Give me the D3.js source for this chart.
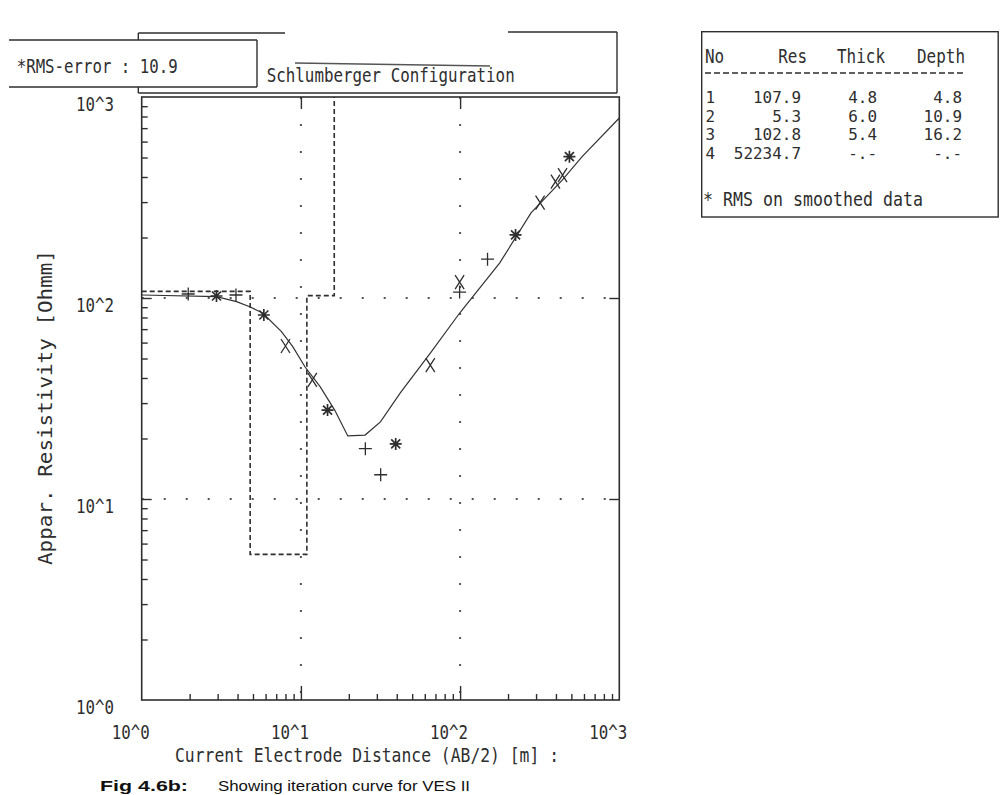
<!DOCTYPE html>
<html><head><meta charset="utf-8">
<script src="https://cdn.jsdelivr.net/npm/d3@7"></script>
<style>
html,body{margin:0;padding:0;background:#fff;}
svg{display:block;}
</style></head>
<body>
<svg id="chart" width="1001" height="795"></svg>
<script>
// ---------------- data ----------------
const modelAB2 = [1, 2.95, 3.94, 4.77, 5.75, 7.55, 8.89, 10.6, 13.2, 16.3, 19.7, 25.3, 31.6, 42.1, 65.0, 99.4, 177, 279, 438, 584, 1000];
const modelRho = [103.5, 101.5, 95.9, 90.5, 84.2, 68.0, 57.3, 45.5, 36.2, 27.7, 20.6, 20.8, 24.2, 33.7, 53.2, 84.2, 149, 265, 386, 505, 786];

const obsAB2    = [1.96, 2.95, 3.91, 5.85, 8.0, 11.8, 14.7, 25.4, 31.7, 39.4, 65, 99.3, 99.3, 148.7, 223, 318, 397, 440, 486];
const obsRho    = [104.7, 102.3, 103.5, 82.3, 57.7, 39.1, 27.7, 17.8, 13.2, 18.8, 46.4, 120, 107, 156, 206, 298, 379, 409, 505];
const obsSymbol = ["+", "*", "+", "*", "x", "x", "*", "+", "+", "*", "x", "x", "+", "+", "*", "x", "x", "x", "*"];

const layerNo    = [1, 2, 3, 4];
const layerRes   = [107.9, 5.3, 102.8, 52234.7];
const layerThick = [4.8, 6.0, 5.4, null];
const layerDepth = [4.8, 10.9, 16.2, null];

const decadeValues = [1, 10, 100, 1000];
const decadeLabels = ["10^0", "10^1", "10^2", "10^3"];
const gridValues = [10, 100];

const rmsError = 10.9;
const chartTitle = "Schlumberger Configuration";
const xTitle = "Current Electrode Distance (AB/2) [m]  :";
const yTitle = "Appar.  Resistivity  [Ohmm]";
const tableHeaders = ["No", "Res", "Thick", "Depth"];
const tableNote = "* RMS on smoothed data";
const captionBold = "Fig 4.6b:";
const captionText = "Showing iteration curve for VES II";

// ---------------- setup ----------------
const svg = d3.select("#chart");
const INK = "#2e2e2e";
const MONO = "'DejaVu Sans Mono', 'Liberation Mono', monospace";

const x = d3.scaleLog().domain([1, 1000]).range([141.7, 619.3]);
const y = d3.scaleLog().domain([1, 1000]).range([700, 97]);

function addText(parent, str, px, py, o = {}) {
  const t = parent.append("text")
    .attr("x", px).attr("y", py)
    .attr("font-family", o.family || MONO)
    .attr("font-size", o.size || 20)
    .attr("font-weight", o.weight || "normal")
    .attr("fill", o.fill || INK)
    .attr("text-anchor", o.anchor || "start")
    .text(str);
  const cw = o.cw === undefined ? 9.6 : o.cw;
  if (cw) t.attr("textLength", o.len || str.length * cw).attr("lengthAdjust", "spacingAndGlyphs");
  if (o.transform) t.attr("transform", o.transform);
  return t;
}
function hline(x1, x2, yy, w = 1.4, dash = null, col = INK) {
  const l = svg.append("line").attr("x1", x1).attr("x2", x2).attr("y1", yy).attr("y2", yy)
    .attr("stroke", col).attr("stroke-width", w);
  if (dash) l.attr("stroke-dasharray", dash);
  return l;
}
function vline(xx, y1, y2, w = 1.4, dash = null, col = INK) {
  const l = svg.append("line").attr("x1", xx).attr("x2", xx).attr("y1", y1).attr("y2", y2)
    .attr("stroke", col).attr("stroke-width", w);
  if (dash) l.attr("stroke-dasharray", dash);
  return l;
}

// ---------------- title box ----------------
hline(138.3, 285, 33);
hline(508, 617, 32);
vline(138.3, 33, 93);
vline(617, 32, 93);
hline(138.3, 617, 93);
svg.append("line").attr("x1", 295).attr("y1", 63).attr("x2", 490).attr("y2", 66)
  .attr("stroke", "#555").attr("stroke-width", 1.3);
addText(svg, chartTitle, 266.7, 81.5, { len: 248 });

// RMS box (on top of title box)
svg.append("rect").attr("x", 9).attr("y", 40).attr("width", 248).attr("height", 47).attr("fill", "#fff");
hline(9, 257, 40);
hline(9, 257, 87);
vline(257, 40, 87);
addText(svg, "*RMS-error :  " + d3.format(".1f")(rmsError), 16.7, 73, { len: 161 });

// ---------------- plot ----------------
svg.append("defs").append("clipPath").attr("id", "plotclip")
  .append("rect").attr("x", x(1)).attr("y", y(1000)).attr("width", x(1000) - x(1)).attr("height", y(1) - y(1000));

// grid (dotted)
gridValues.forEach(v => {
  vline(x(v), y(1000), y(1), 2, "2,25", "#555");
  hline(x(1), x(1000), y(v), 2, "2,20", "#555");
});

// ticks through d3 axes
const minorVals = [];
[1, 10, 100].forEach(d => { for (let k = 2; k <= 9; k++) minorVals.push(k * d); });
function styleAxis(g) {
  g.select(".domain").remove();
  g.selectAll("line").attr("stroke", INK).attr("stroke-width", 1.4);
}
svg.append("g").attr("transform", `translate(0,${y(1)})`)
  .call(d3.axisBottom(x).tickValues(minorVals).tickSize(-6).tickFormat("")).call(styleAxis);
svg.append("g").attr("transform", `translate(0,${y(1)})`)
  .call(d3.axisBottom(x).tickValues(gridValues).tickSize(-14).tickFormat("")).call(styleAxis);
svg.append("g").attr("transform", `translate(${x(1)},0)`)
  .call(d3.axisLeft(y).tickValues(minorVals).tickSize(-6).tickFormat("")).call(styleAxis);
svg.append("g").attr("transform", `translate(${x(1)},0)`)
  .call(d3.axisLeft(y).tickValues(gridValues).tickSize(-10).tickFormat("")).call(styleAxis);
svg.append("g").attr("transform", `translate(0,${y(1000)})`)
  .call(d3.axisTop(x).tickValues(gridValues).tickSize(-12).tickFormat("")).call(styleAxis);
svg.append("g").attr("transform", `translate(${x(1000)},0)`)
  .call(d3.axisRight(y).tickValues(gridValues).tickSize(-10).tickFormat("")).call(styleAxis);

// frame
svg.append("rect").attr("x", x(1)).attr("y", y(1000)).attr("width", x(1000) - x(1)).attr("height", y(1) - y(1000))
  .attr("fill", "none").attr("stroke", INK).attr("stroke-width", 1.6);

// layered model (dashed steps)
const stepPts = [[1, layerRes[0]]];
for (let i = 0; i < layerRes.length - 1; i++) {
  stepPts.push([layerDepth[i], layerRes[i]]);
  stepPts.push([layerDepth[i], layerRes[i + 1]]);
}
const plotG = svg.append("g").attr("clip-path", "url(#plotclip)");
plotG.append("path")
  .attr("d", d3.line().x(d => x(d[0])).y(d => y(d[1]))(stepPts))
  .attr("fill", "none").attr("stroke", INK).attr("stroke-width", 1.6).attr("stroke-dasharray", "5,3");

// model curve
plotG.append("path")
  .attr("d", d3.line().x((d, i) => x(modelAB2[i])).y(d => y(d))(modelRho))
  .attr("fill", "none").attr("stroke", "#333").attr("stroke-width", 1.2);

// observed points
const symPath = {
  "+": "M-6.5,0H6.5M0,-6.5V6.5",
  "x": "M-4.5,-7L4.5,7M4.5,-7L-4.5,7",
  "*": "M-6,0H6M0,-6V6M-4.5,-4.5L4.5,4.5M4.5,-4.5L-4.5,4.5"
};
svg.append("g").selectAll("path").data(obsAB2).join("path")
  .attr("transform", (d, i) => `translate(${x(d)},${y(obsRho[i])})`)
  .attr("d", (d, i) => symPath[obsSymbol[i]])
  .attr("fill", "none").attr("stroke", INK)
  .attr("stroke-width", (d, i) => obsSymbol[i] === "*" ? 1.7 : 1.3);

// tick labels
decadeValues.forEach((v, i) => {
  addText(svg, decadeLabels[i], 114, y(v) + 14, { anchor: "end", len: 38 });
  addText(svg, decadeLabels[i], x(v) - 11, 739, { anchor: "middle", len: 38 });
});

// axis titles
addText(svg, xTitle, 175, 762, { len: 384 });
addText(svg, yTitle, 0, 0, { len: 315, transform: "translate(52,565) rotate(-90)" });

// ---------------- table ----------------
svg.append("rect").attr("x", 701.7).attr("y", 31.7).attr("width", 296.5).attr("height", 185.3)
  .attr("fill", "none").attr("stroke", INK).attr("stroke-width", 1.4);
const tableG = svg.append("g");
addText(tableG, tableHeaders[0], 705, 63);
addText(tableG, tableHeaders[1], 807, 63, { anchor: "end" });
addText(tableG, tableHeaders[2], 837, 63);
addText(tableG, tableHeaders[3], 917, 63);
hline(705, 965, 73, 1.5, "6,3");
const fmt1 = d3.format(".1f");
const fmtOrDash = v => v === null ? "-.-" : fmt1(v);
const rowSize = 15.6;
layerNo.forEach((n, i) => {
  const ry = 103 + i * 18.5;
  addText(tableG, String(n), 715, ry, { anchor: "end", size: rowSize });
  addText(tableG, fmt1(layerRes[i]), 801, ry, { anchor: "end", size: rowSize });
  addText(tableG, fmtOrDash(layerThick[i]), 877, ry, { anchor: "end", size: rowSize });
  addText(tableG, fmtOrDash(layerDepth[i]), 962, ry, { anchor: "end", size: rowSize });
});
addText(tableG, tableNote, 703, 206, { len: 220 });

// ---------------- caption ----------------
addText(svg, captionBold, 100, 791, { family: "'Liberation Sans', Arial, sans-serif", weight: "bold", size: 15, len: 88, fill: "#111" });
addText(svg, captionText, 218, 791, { family: "'Liberation Sans', Arial, sans-serif", size: 14, len: 252, fill: "#111" });
</script>
</body></html>
